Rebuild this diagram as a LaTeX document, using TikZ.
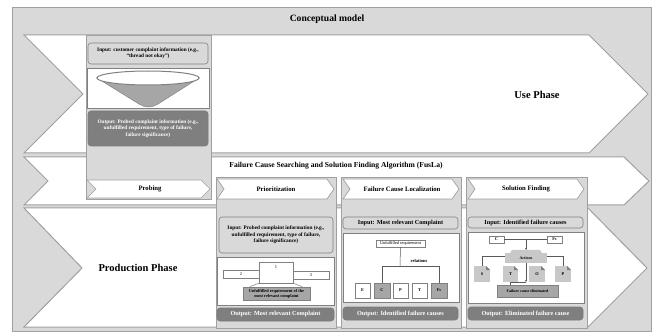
\documentclass[tikz,border=0pt]{standalone}
\usepackage{fontspec}
\setmainfont{Liberation Serif}
\usetikzlibrary{arrows.meta}
\definecolor{frameC}{HTML}{D9D9D9}
\definecolor{edgeC}{HTML}{A0A0A0}
\definecolor{darkC}{HTML}{7F7F7F}
\definecolor{midC}{HTML}{A6A6A6}
\definecolor{docC}{HTML}{C8C8C8}
\definecolor{lineC}{HTML}{595959}
\newcommand\bx[7]{\node[#2, minimum width={#5pt-#3pt}, minimum height={#6pt-#4pt}] (#1) at ({(#3+#5)/2},{(#4+#6)/2}) {#7};}
\begin{document}
\begin{tikzpicture}[x=1pt,y=-1pt,
  frame/.style={fill=frameC, draw=edgeC, line width=0.8pt},
  band/.style={fill=white, draw=edgeC, line width=1pt, line join=miter},
  colbox/.style={rectangle, fill=frameC, draw=edgeC, line width=0.8pt, inner sep=0pt},
  chev/.style={fill=white, draw=edgeC, line width=0.7pt},
  bigtxt/.style={font=\fontsize{10.5}{12}\selectfont\bfseries},
  chevtxt/.style={font=\fontsize{6.7}{7.5}\selectfont\bfseries},
  inbox/.style={rectangle, rounded corners=3pt, fill=frameC, draw=gray, line width=0.6pt, font=\fontsize{5.3}{6.3}\selectfont\bfseries, align=center, inner sep=0pt},
  outbox/.style={rectangle, rounded corners=3pt, fill=darkC, draw=lineC!80, line width=0.6pt, text=white, font=\fontsize{5.3}{6.3}\selectfont\bfseries, align=center, inner sep=0pt},
  whitebox/.style={rectangle, fill=white, draw=gray, line width=0.6pt, inner sep=0pt},
  smallbox/.style={rectangle, fill=white, draw=gray, line width=0.5pt, font=\fontsize{4.3}{5}\selectfont\bfseries, align=center, inner sep=0pt},
  greybox/.style={smallbox, fill=midC},
  docbox/.style={rectangle, fill=docC, inner sep=0pt, font=\fontsize{4.3}{5}\selectfont\bfseries,
    path picture={\fill[white] (path picture bounding box.north east) -- ++(-4pt,0pt) -- ++(4pt,-4pt) -- cycle;
      \fill[gray] (path picture bounding box.north east) ++(-4pt,0pt) -- ++(0pt,-4pt) -- ++(4pt,0pt) -- cycle;}},
  conn/.style={draw=lineC, line width=0.5pt},
  tip/.style={-{Stealth[length=2pt,width=2pt]}},
  onetxt/.style={font=\fontsize{6.2}{7}\selectfont\bfseries}
]
\useasboundingbox (0,0) rectangle (654,334);
\fill[white] (0,0) rectangle (654,334);
\draw[frame] (12,7) rectangle (651,331);
\node[font=\fontsize{9.6}{12}\selectfont\bfseries] (title) at (327,19) {Conceptual model};

% phase bands
\draw[band] (24,35) -- (589,35) -- (648,94) -- (589,153) -- (24,153) -- (83,94) -- cycle;
\node[bigtxt] (use) at (537,95) {Use Phase};
\draw[band] (24,157) -- (624,157) -- (649,181) -- (624,205) -- (24,205) -- (48,181) -- cycle;
\node[font=\fontsize{7.6}{9}\selectfont\bfseries] (fusla) at (336,166) {Failure Cause Searching and Solution Finding Algorithm (FusLa)};
\draw[band] (24,208) -- (588,208) -- (647,268) -- (588,327) -- (24,327) -- (82,268) -- cycle;
\node[bigtxt] (prod) at (138,268) {Production Phase};

% Probing column
\bx{pcol}{colbox}{86}{35}{211}{199}{}
\bx{pin}{inbox}{88}{43}{208}{64}{Input: customer complaint information (e.g.,\\ “thread not okay”)}
\bx{pfun}{whitebox}{87}{68}{209}{108}{}
\fill[midC, draw=gray, line width=0.5pt] (97,78) -- (139,104) .. controls (145,108) and (152,108) .. (158,104) -- (199,78) -- cycle;
\draw[fill=white, draw=gray, line width=1pt] (148,78) ellipse [x radius=51pt, y radius=7pt];
\bx{pout}{outbox}{88}{111}{208}{146}{Output: Probed complaint information (e.g.,\\ unfulfilled requirement, type of failure,\\ failure significance)}
\draw[chev] (87,180) -- (201,180) -- (210,189) -- (201,198) -- (87,198) -- (96,189) -- cycle;
\node[chevtxt] (probing) at (150,189) {Probing};

% Prioritization column
\bx{prcol}{colbox}{216}{177}{336}{328}{}
\draw[chev] (217,179) -- (327,179) -- (334,189) -- (327,199) -- (217,199) -- (224,189) -- cycle;
\node[chevtxt] (prio) at (276,189) {Prioritization};
\bx{prin}{inbox}{219}{217}{333}{253}{Input: Probed complaint information (e.g.,\\ unfulfilled requirement, type of failure,\\ failure significance)}
\bx{prw}{whitebox}{217}{257}{334}{305}{}
\bx{r2}{smallbox}{223}{270}{259}{278}{\mdseries 2}
\bx{r3}{smallbox}{293}{271}{329}{279}{\mdseries 3}
\bx{r1}{smallbox}{259}{262}{293}{283}{}
\node[font=\fontsize{4.5}{5}\selectfont] at (276,267) {1};
\bx{rlab}{greybox}{243}{287}{310}{300}{Unfulfilled requirement of the\\ most relevant complaint}
\draw[conn, draw=gray] (r1.south west) -- ([xshift=7pt]rlab.north west);
\draw[conn, draw=gray] (r1.south east) -- ([xshift=-8pt]rlab.north east);
\bx{prout}{outbox}{217}{308}{334}{321}{\fontsize{6.2}{7}\selectfont Output: Most relevant Complaint}

% Failure Cause Localization column
\bx{fcol}{colbox}{341}{177}{461}{328}{}
\draw[chev] (343,179) -- (452,179) -- (459,189) -- (452,199) -- (343,199) -- (350,189) -- cycle;
\node[chevtxt] (fcl) at (402,189) {Failure Cause Localization};
\bx{fin}{inbox}{343}{217}{458}{229}{\fontsize{6.2}{7}\selectfont Input: Most relevant Complaint}
\bx{fw}{whitebox}{343}{233}{459}{302}{}
\bx{ur}{smallbox}{376}{240}{425}{247}{\mdseries Unfulfilled requirement}
\bx{fe}{smallbox}{355}{283}{370}{298}{E}
\bx{fc}{greybox}{374}{283}{390}{298}{C}
\bx{fp}{smallbox}{393}{283}{408}{298}{P}
\bx{ft}{smallbox}{412}{283}{427}{298}{T}
\bx{ffs}{greybox}{431}{283}{447}{298}{Fs}
\coordinate (fj) at (400,266);
\draw[conn] (ur.south) -- (fj);
\draw[conn] (fj) -| (fc.north);
\draw[conn] (fj) -| (ffs.north);
\node[font=\fontsize{4.5}{5}\selectfont\bfseries] (rel) at (419,261) {relations};
\bx{fout}{outbox}{343}{307}{458}{320}{\fontsize{6.2}{7}\selectfont Output: Identified failure causes}

% Solution Finding column
\bx{scol}{colbox}{466}{177}{587}{328}{}
\draw[chev] (468,179) -- (577,179) -- (584,189) -- (577,199) -- (468,199) -- (475,189) -- cycle;
\node[chevtxt] (sf) at (526,189) {Solution Finding};
\bx{sin}{inbox}{468}{217}{583}{228}{\fontsize{6.2}{7}\selectfont Input: Identified failure causes}
\bx{sw}{whitebox}{468}{232}{584}{303}{}
\bx{sc}{smallbox}{489}{236}{504}{243}{C}
\bx{sfs}{smallbox}{547}{236}{562}{243}{Fs}
\draw[conn] (sc.east) -- (sfs.west);
\fill[docC] (510,253) -- (512,250) -- (540,250) -- (542,253) -- cycle;
\bx{act}{rectangle, fill=docC, inner sep=0pt, font=\fontsize{4}{5}\selectfont\bfseries}{505}{253}{547}{263}{Actions}
\draw[conn, tip] (526,240) -- (526,250);
\bx{ss}{docbox}{474}{266}{490}{282}{S}
\bx{st}{docbox}{503}{266}{518}{282}{T}
\bx{so}{docbox}{529}{266}{545}{282}{O}
\bx{sp}{docbox}{555}{266}{571}{282}{P}
\draw[conn] (act.west |- 0,256) -| (ss.north);
\draw[conn] (act.east |- 0,256) -| (sp.north);
\bx{elim}{greybox}{497}{285}{558}{297}{\fontsize{4}{5}\selectfont Failure cause eliminated}
\coordinate (sj) at (526,282);
\draw[conn, tip] (act.south) -- (sj);
\draw[conn] (sj) -| (st.south);
\draw[conn] (st.south) -- (st.south |- elim.north);
\bx{sout}{outbox}{468}{307}{583}{320}{\fontsize{6.2}{7}\selectfont Output: Eliminated failure cause}
\end{tikzpicture}
\end{document}
